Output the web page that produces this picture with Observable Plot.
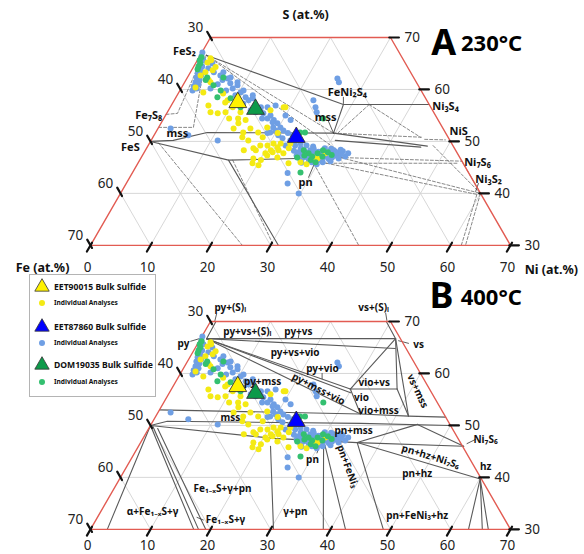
<!DOCTYPE html>
<html>
<head>
<meta charset="utf-8">
<script src="https://cdn.jsdelivr.net/npm/d3@7"></script>
<script src="https://cdn.jsdelivr.net/npm/@observablehq/plot@0.6"></script>
<style>
  body { margin: 0; background: #fff; }
  #chart { position: relative; width: 584px; height: 554px; font-family: "Noto Sans", "Open Sans", sans-serif; }
  #legend { position: absolute; left: 29px; top: 274px; }
</style>
</head>
<body>
<div id="chart"></div>
<script>
// ---- composition data: every point is [Ni at.%, S at.%], Fe = 100 - Ni - S ----

const niTicks = [0, 10, 20, 30, 40, 50, 60, 70];
const feTicks = [30, 40, 50, 60, 70];
const sTicks = [70, 60, 50, 40, 30];
const gridSteps = [10, 20, 30, 40, 50, 60];

// bulk sulfide compositions
const bulkEET90015 = [[10.8, 57.5]];
const bulkDOM19035 = [[14.4, 56.2]];
const bulkEET87860 = [[23.9, 50.8]];

// individual sulfide analyses
const analysesEET87860 = [
  [0.1,67.1],[0.3,66.4],[0.5,65.6],[1.0,65.6],[0.8,64.8],[1.4,64.4],[1.0,64.1],[1.6,63.5],[1.3,63.1],[2.1,62.7],
  [1.5,62.3],[2.2,61.9],[1.8,61.4],[2.5,61.0],[1.9,60.6],[2.6,60.2],[2.1,59.8],[2.6,64.1],[2.8,65.0],[3.9,63.3],
  [5.3,62.7],[6.1,61.8],[6.8,62.1],[7.7,61.2],[8.6,60.2],[9.1,60.8],[10.3,59.4],[11.6,58.5],[12.4,57.9],[12.9,58.3],
  [14.0,56.9],[15.3,56.0],[16.1,55.4],[16.2,56.6],[17.5,55.0],[18.5,54.1],[19.4,53.5],[20.3,52.7],[21.1,52.1],[22.1,51.6],
  [19.1,52.7],[19.1,51.7],[20.7,51.2],[21.7,50.6],[18.7,51.6],[16.4,54.4],[13.7,56.0],[11.8,57.3],[9.7,58.9],[7.7,59.8],
  [5.7,61.0],[4.9,60.2],[23.2,50.2],[23.1,51.2],[22.9,49.2],[24.5,49.2],
  [25.7,48.7],[26.9,47.9],[27.5,48.3],[28.8,47.3],[29.4,47.9],[30.6,47.1],[31.1,47.7],[32.2,47.3],[32.9,47.5],[29.8,46.4],
  [28.6,46.7],[30.7,46.0],[28.2,46.4],[31.4,46.6],[27.0,46.9],[25.7,47.9],[31.4,48.3],[27.6,49.0],[33.0,46.7],[29.9,45.6],
  [33.0,48.1],[26.4,49.2],[25.7,47.3],[29.7,48.7],[26.8,46.4],
  [28.0,47.6],[29.0,48.0],[30.0,47.5],[31.0,48.0],[32.0,47.9],[27.5,47.0],[28.5,47.9],[30.3,46.8],[31.8,46.9],[29.3,47.0],
  [27.9,48.6],[30.8,48.6],[26.2,48.3],[32.5,48.4],[24.8,48.2],[28.9,46.0],[31.9,46.2],[27.2,45.9],[29.6,45.9],[26.0,47.6],
  [11.1,50.2],[2.1,52.5],[5.7,51.2],[26.9,41.9],[25.9,43.9],[29.7,40.0],[23.2,57.9],[24.2,56.6],[24.9,55.6],[25.1,62.1],[25.7,61.4],
  [17.3,54.4],[18.5,53.7],[19.8,52.1],[14.7,55.6],[15.1,56.6],[12.6,58.9],[10.6,59.8],[7.2,62.3],[5.5,63.3],[8.8,61.4],
  [20.0,55.0],[21.3,54.1],[17.4,56.9],[24.1,50.2],[25.2,49.6],[33.9,47.1],[34.1,47.7]
];
const analysesEET90015 = [
  [1.9,65.2],[3.5,63.7],[2.5,63.3],[2.0,62.7],[2.0,66.0],[4.3,61.4],[7.5,59.2],[8.7,57.5],[6.2,56.9],[9.7,55.6],
  [12.9,53.5],[13.8,54.1],[15.4,52.5],[17.1,51.7],[19.9,49.2],[16.2,50.2],[14.9,50.8],[18.4,48.3],[20.8,47.3],[22.2,48.3],
  [23.3,47.7],[20.7,49.6],[18.9,56.6],[28.7,46.9],[14.6,51.7],[17.8,48.7],[18.7,49.2],[21.4,47.9],[21.7,48.9],[23.7,48.7],
  [23.5,49.6],[18.8,46.7],[20.2,46.4],[20.3,47.7],[22.7,46.9],[25.1,45.8],[27.0,46.0],[28.2,45.6],[20.9,48.3],[19.1,45.8],
  [8.9,57.9],[10.4,56.6],[10.3,58.5],[7.2,55.6],[8.5,55.4],[12.4,54.4],[18.3,50.8],[18.1,52.7],[20.4,51.6],[21.9,49.6],
  [17.0,56.0],[12.2,55.6],[2.3,65.6],[3.7,64.3],[3.8,61.8],[4.1,59.4],[2.3,60.4],[19.2,56.6],[12.6,52.5],[10.9,54.4],
  [16.4,48.3],[20.3,45.4],[30.3,47.7],[29.5,46.7]
];
const analysesDOM19035 = [
  [0.4,65.6],[0.8,65.0],[0.8,64.4],[0.4,66.2],[0.9,63.9],[3.3,61.8],[5.1,60.8],[6.9,58.5],[9.2,58.3],[6.0,62.3],
  [3.3,62.3],[11.7,56.6],[24.1,51.7],[24.9,51.7],[26.4,48.3],[27.5,47.7],[28.4,47.1],[29.0,47.7],[30.1,47.1],[30.6,47.9],
  [28.5,46.4],[28.0,44.0],[26.0,46.9],[26.6,54.4],[29.5,46.0],[6.8,59.8],[27.0,47.3],[29.6,48.3],[31.5,47.4]
];

// 230 °C phase relations
const boundaries230 = [
  [[1.0,66.6],[28.6,57.1]],
  [[28.6,57.1],[42.9,57.1]],
  [[28.6,57.1],[29.7,51.6]],
  [[0,50],[3.7,50.2],[8.6,51.7],[29.7,51.6]],
  [[0,50],[14.8,46.4],[33.2,46.9]],
  [[29.7,51.6],[46.6,49.1]],
  [[30.7,50.2],[45.6,48.9]],
  [[14.8,46.4],[31.3,30]]
];
const tieLines230 = [
  [[0,55.2],[1.8,55.4],[0.5,66.5]],
  [[0,52.7],[5.8,52.7],[1.0,66.5]],
  [[1.0,66.6],[29.7,51.6]],
  [[1.0,66.6],[32.0,48.3]],
  [[1.5,49.7],[25.3,30]],
  [[15.5,46.4],[30.5,30]],
  [[29.3,45.8],[44.7,30]],
  [[33.2,46.9],[53.8,46.2]],
  [[31.0,45.8],[53.5,45.8]],
  [[33.2,46.9],[60,40]],
  [[30.5,46.0],[59.5,39.8]],
  [[53.8,46.2],[60,40]],
  [[47.5,49.2],[60,40]],
  [[60,40],[62.5,30]],
  [[59.5,39.8],[61.8,30]],
  [[32.9,57.1],[44.6,50.8]],
  [[32.9,57.1],[30.4,51.6]],
  [[29.7,51.6],[44.9,50.8]],
  [[45.5,50.4],[49.0,50.3]]
];
const leaders230 = [
  [[27.9,58.5],[28.5,57.3]],
  [[27.7,53.9],[29.7,51.6]],
  [[58.7,41.9],[59.0,40.4]],
  [[29.8,43.1],[29.5,45.4]]
];
const labels230 = [
  ["FeS₂", -3.0, 67.3], ["Fe₇S₈", -2.8, 55.0], ["FeS", -2.8, 48.9], ["mss", 3.7, 51.6],
  ["FeNi₂S₄", 28.1, 59.4], ["mss", 26.9, 54.6], ["NiS", 50.4, 51.9], ["Ni₇S₆", 56.5, 46.0],
  ["Ni₃S₂", 60.0, 42.7], ["pn", 29.8, 42.1]
];
const labelsStart230 = [["Ni₃S₄", 43.6, 56.7]];

// 400 °C phase relations
const boundaries400 = [
  [[1,66.7],[32.5,66.7]],
  [[1,66.7],[33.4,64.8]],
  [[1,66.7],[0.9,70]],
  [[32.5,66.7],[29.3,70]],
  [[32.5,66.7],[29.8,57.0]],
  [[1,66.7],[29.8,57.0]],
  [[1,66.7],[30.2,56.3]],
  [[1,66.7],[33.9,52.2]],
  [[29.8,57.0],[37.6,57.0]],
  [[32.5,66.7],[37.6,57.0]],
  [[32.5,66.7],[42.1,51.8]],
  [[29.8,57.0],[33.9,52.2]],
  [[37.6,57.0],[42.1,51.8]],
  [[0,53.0],[33.9,52.2],[42.1,51.8],[48.4,51.6]],
  [[0,50],[2.4,50.8],[34.8,50.4],[50,50]],
  [[0,50],[21.7,47.5],[36.1,46.7]],
  [[44.4,50.2],[36.1,46.7]],
  [[44.4,50.2],[54.2,46.0]],
  [[36.1,46.7],[54.2,46.0]],
  [[36.1,46.7],[60.1,39.7]],
  [[60.1,39.7],[63,30]],
  [[60.1,39.7],[65.3,30]],
  [[60.1,39.7],[66.3,30]],
  [[36.1,46.7],[48.8,30]],
  [[30.6,46.5],[38.8,30]],
  [[30.9,46.3],[42.5,30]],
  [[22.0,46.0],[30.5,30]],
  [[0,50],[2.8,30]],
  [[0,50],[17.2,30]],
  [[0.5,49.8],[18.0,30]],
  [[1.5,49.4],[19.2,30]]
];
const leaders400 = [
  [[-1.4,66.2],[0.5,67.0]],
  [[15.9,67.7],[16.2,66.9]],
  [[28.4,71.6],[29.3,70.2]],
  [[33.2,66.3],[35.1,65.8]],
  [[23.6,60.0],[24.1,59.0]],
  [[30.4,44.7],[30.2,45.8]],
  [[54.5,46.5],[55.5,47.3]],
  [[16.6,32.3],[17.9,31.8]],
  [[0.3,71.4],[0.7,70.0]]
];
const labels400 = [
  ["py+(S)ₗ", 2.0, 72.6], ["py", -2.4, 65.8], ["py+vs+(S)ₗ", 7.1, 68.1], ["py+vs", 15.6, 68.1],
  ["vs+(S)ₗ", 25.9, 72.6], ["vs", 36.9, 65.6], ["py+vs+vio", 17.1, 64.0], ["py+vio", 23.2, 60.9],
  ["vio+vs", 33.2, 58.2], ["vio", 32.5, 55.3], ["vio+mss", 36.6, 52.8], ["mss", 12.6, 51.4],
  ["py+mss", 14.5, 58.4], ["pn+mss", 34.4, 48.9], ["pn", 30.3, 43.4], ["Ni₇S₆", 57.2, 47.3],
  ["hz", 59.8, 42.1], ["pn+hz", 49.1, 40.7], ["pn+FeNi₃+hz", 53.1, 32.7], ["γ+pn", 32.5, 33.3],
  ["Fe₁₋ₓS+γ+pn", 18.1, 37.8], ["α+Fe₁₋ₓS+γ", 8.7, 33.3], ["Fe₁₋ₓS+γ", 21.6, 31.8]
];
const slantedLabels400 = [
  ["py+mss+vio", 24.5, 57.0, 27], ["vs+mss", 41.2, 56.6, 65],
  ["pn+FeNi₃", 36.8, 42.1, 70], ["pn+hz+Ni₇S₆", 49.7, 44.0, 17]
];

const panelTitles = [
  {panel: "A", letter: "A", temp: "230°C", ni: 39.4, s: 68.9, tni: 47.5, ts: 68.7},
  {panel: "B", letter: "B", temp: "400°C", ni: 36.1, s: 74.8, tni: 44.5, ts: 74.6}
];
const axisTitles = [
  ["S (at.%)", 13.7, 74.3], ["Fe (at.%)", -5.8, 25.6], ["Ni (at.%)", 79.2, 25.2]
];

// ---- ternary layout ----
const panels = ["A", "B"];
const PANEL_SHIFT = {A: 0, B: 54.66};           // S-units that panel B sits below panel A
const X = d => d.ni + d.s / 2;                   // ternary → cartesian
const Y = d => d.s - PANEL_SHIFT[d.panel];

const pt = (panel, [ni, s], extra = {}) => ({panel, ni, s, ...extra});
const pathRows = (paths, panel, tag) =>
  paths.flatMap((p, i) => p.map(c => pt(panel, c, {id: `${panel}-${tag}-${i}`})));
const perPanel = f => panels.flatMap(f);

const outline = [[0,30],[70,30],[30,70],[0,70],[0,30]];
const gridPaths = [
  ...gridSteps.map(k => [[k,30],[k,Math.min(70,100-k)]]),                          // Ni = k
  ...gridSteps.map(k => [[70-k,30],[Math.max(0,30-k),Math.min(70,100-k)]]),         // Fe = k
  ...[40,50,60].map(k => [[0,k],[100-k,k]])                                         // S = k
];
const tickPaths = [
  ...niTicks.map(k => [[k,28.8],[k,30.5]]),
  ...feTicks.map(k => [[0.5,100-k-0.5],[-1.1,100-k+1.1]]),
  ...sTicks.map(k => [[100-k-0.2,k],[100-k+1.4,k]])
];

const red = "#e25b52";
const lineGray = "#5a5a5a";
const labelFont = {fontFamily: "Noto Sans", fontWeight: "bold", fill: "#111"};
const tickFont = {fontFamily: "Noto Sans", fontSize: 13.5, fill: "#222"};

const chart = Plot.plot({
  width: 584,
  height: 554,
  margin: 0,
  style: {background: "#fff", overflow: "visible", fontFamily: "Noto Sans"},
  x: {axis: null, domain: [0, 584 / 6], range: [0, 584]},
  y: {axis: null, domain: [30 - PANEL_SHIFT.B, 70], range: [528.85, 37]},
  marks: [
    // light composition grid
    Plot.line(perPanel(p => pathRows(gridPaths, p, "grid")), {x: X, y: Y, z: "id", stroke: "#d2d2d2", strokeWidth: 0.9}),
    // phase boundaries
    Plot.line(pathRows(tieLines230, "A", "tie"), {x: X, y: Y, z: "id", stroke: "#6a6a6a", strokeWidth: 0.8, strokeDasharray: "3,2"}),
    Plot.line(pathRows(boundaries230, "A", "bd"), {x: X, y: Y, z: "id", stroke: lineGray, strokeWidth: 1.1}),
    Plot.line(pathRows(boundaries400, "B", "bd"), {x: X, y: Y, z: "id", stroke: lineGray, strokeWidth: 1.1}),
    Plot.line([...pathRows(leaders230, "A", "ld"), ...pathRows(leaders400, "B", "ld")], {x: X, y: Y, z: "id", stroke: "#333", strokeWidth: 0.8}),
    // diagram outline and ticks
    Plot.line(perPanel(p => outline.map(c => pt(p, c))), {x: X, y: Y, z: "panel", stroke: red, strokeWidth: 1.4}),
    Plot.line(perPanel(p => pathRows(tickPaths, p, "tick")), {x: X, y: Y, z: "id", stroke: "#111", strokeWidth: 2.2}),
    // analyses
    Plot.dot(perPanel(p => analysesEET87860.map(c => pt(p, c))), {x: X, y: Y, r: 3, fill: "#6f9fe4"}),
    Plot.dot(perPanel(p => analysesEET90015.map(c => pt(p, c))), {x: X, y: Y, r: 3, fill: "#f4ea14"}),
    Plot.dot(perPanel(p => analysesDOM19035.map(c => pt(p, c))), {x: X, y: Y, r: 3, fill: "#34c070"}),
    Plot.dot(perPanel(p => bulkEET90015.map(c => pt(p, c))), {x: X, y: Y, symbol: "triangle", r: 6.6, fill: "#fff200", stroke: "#333", strokeWidth: 0.9}),
    Plot.dot(perPanel(p => bulkDOM19035.map(c => pt(p, c))), {x: X, y: Y, symbol: "triangle", r: 6.6, fill: "#0d9a4a", stroke: "#333", strokeWidth: 0.9}),
    Plot.dot(perPanel(p => bulkEET87860.map(c => pt(p, c))), {x: X, y: Y, symbol: "triangle", r: 6.6, fill: "#0000ff", stroke: "#333", strokeWidth: 0.9}),
    // phase labels
    Plot.text(labels230.map(([t, ni, s]) => pt("A", [ni, s], {t})), {x: X, y: Y, text: "t", fontSize: 11, ...labelFont}),
    Plot.text(labelsStart230.map(([t, ni, s]) => pt("A", [ni, s], {t})), {x: X, y: Y, text: "t", fontSize: 11, textAnchor: "start", ...labelFont}),
    Plot.text(labels400.map(([t, ni, s]) => pt("B", [ni, s], {t})), {x: X, y: Y, text: "t", fontSize: 10, ...labelFont}),
    Plot.text(slantedLabels400.map(([t, ni, s, a]) => pt("B", [ni, s], {t, a})), {x: X, y: Y, text: "t", rotate: "a", fontSize: 10, ...labelFont}),
    // axis tick labels
    Plot.text(niTicks.map(k => pt("A", [k, 30], {t: k})), {x: X, y: Y, text: "t", dx: -3, dy: 22, ...tickFont}),
    Plot.text(niTicks.map(k => pt("B", [k, 30], {t: k})), {x: X, y: Y, text: "t", dx: -3, dy: 16.5, ...tickFont}),
    Plot.text(perPanel(p => feTicks.map(k => pt(p, [0, 100 - k], {t: k}))), {x: X, y: Y, text: "t", dx: -15, dy: -10, ...tickFont}),
    Plot.text(perPanel(p => sTicks.map(k => pt(p, [100 - k, k], {t: k}))), {x: X, y: Y, text: "t", dx: 14, textAnchor: "start", ...tickFont}),
    // axis names and panel titles
    Plot.text(axisTitles.map(([t, ni, s]) => pt("A", [ni, s], {t})), {x: X, y: Y, text: "t", fontSize: 12.5, ...labelFont}),
    Plot.text(panelTitles.map(d => pt(d.panel, [d.ni, d.s], {t: d.letter})), {x: X, y: Y, text: "t", fontSize: 36, fontWeight: "bold", fill: "#000"}),
    Plot.text(panelTitles.map(d => pt(d.panel, [d.tni, d.ts], {t: d.temp})), {x: X, y: Y, text: "t", fontSize: 22, fontWeight: "bold", fill: "#000"})
  ]
});

const host = document.getElementById("chart");
host.appendChild(chart);

// sample legend
const legendItems = [
  {label: "EET90015 Bulk Sulfide", color: "#fff200", bulk: true},
  {label: "Individual Analyses", color: "#f4ea14", bulk: false},
  {label: "EET87860 Bulk Sulfide", color: "#0000ff", bulk: true},
  {label: "Individual Analyses", color: "#6f9fe4", bulk: false},
  {label: "DOM19035 Bulk Sulfide", color: "#0d9a4a", bulk: true},
  {label: "Individual Analyses", color: "#34c070", bulk: false}
];
const legend = d3.select(host).append("svg")
  .attr("id", "legend").attr("width", 128).attr("height", 125);
legend.append("rect").attr("x", 0.5).attr("y", 0.5).attr("width", 126).attr("height", 122)
  .attr("fill", "#fff").attr("stroke", "#b4b4b4");
const rowY = [13, 29, 53, 69, 91, 108];
legendItems.forEach((d, i) => {
  const g = legend.append("g").attr("transform", `translate(13,${rowY[i]})`);
  if (d.bulk) {
    g.append("path").attr("d", d3.symbol(d3.symbolTriangle, 90)()).attr("fill", d.color).attr("stroke", "#333").attr("stroke-width", 0.8);
  } else {
    g.append("circle").attr("r", 3).attr("fill", d.color);
  }
  g.append("text").attr("x", 12).attr("y", 0).attr("dy", "0.35em")
    .attr("font-family", "Noto Sans").attr("font-weight", "bold")
    .attr("font-size", d.bulk ? 8.6 : 6.6).attr("fill", "#111").text(d.label);
});
</script>
</body>
</html>
